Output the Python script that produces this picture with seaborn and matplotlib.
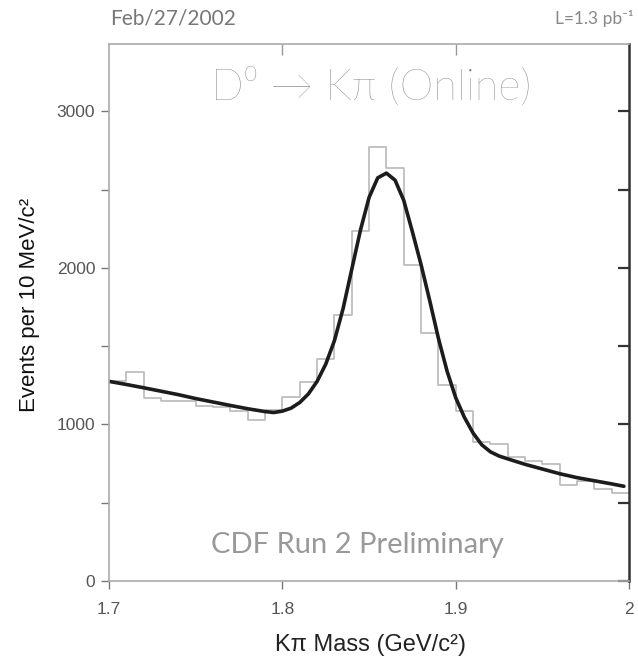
import numpy as np
import pandas as pd
import matplotlib
matplotlib.use("Agg")
import matplotlib.pyplot as plt
import seaborn as sns

# --- Data ---
# 10 MeV bins from 1.70 to 2.00 GeV
bin_edges = list(np.round(np.linspace(1.70, 2.00, 31), 3))
bin_centers = [round(lo + 0.005, 3) for lo in bin_edges[:-1]]
events = [1280, 1335, 1168, 1148, 1150, 1120, 1110, 1085, 1030, 1095,
          1175, 1270, 1416, 1700, 2235, 2770, 2635, 2020, 1583, 1251,
          1083, 885, 875, 790, 765, 745, 615, 640, 590, 560]

# fitted curve (signal + background), read point by point
fit_mass = [1.700, 1.710, 1.720, 1.730, 1.740, 1.750, 1.760, 1.770, 1.780, 1.790,
            1.795, 1.800, 1.805, 1.810, 1.815, 1.820, 1.825, 1.830, 1.835, 1.840,
            1.845, 1.850, 1.855, 1.860, 1.865, 1.870, 1.875, 1.880, 1.885, 1.890,
            1.895, 1.900, 1.905, 1.910, 1.915, 1.920, 1.925, 1.930, 1.940, 1.950,
            1.960, 1.970, 1.980, 1.990, 1.997]
fit_events = [1275, 1255, 1234, 1212, 1190, 1165, 1143, 1121, 1100, 1082,
              1076, 1085, 1104, 1140, 1195, 1275, 1385, 1535, 1740, 1990,
              2240, 2450, 2575, 2605, 2560, 2431, 2230, 2020, 1790, 1550,
              1340, 1170, 1045, 945, 870, 825, 798, 780, 745, 715,
              685, 660, 640, 620, 605]

x_ticks = [1.7, 1.8, 1.9, 2.0]
x_tick_labels = ["1.7", "1.8", "1.9", "2"]
y_ticks = [0, 1000, 2000, 3000]
y_minor = [500, 1500, 2500]

df_hist = pd.DataFrame({"mass": bin_centers, "events": events})
df_fit = pd.DataFrame({"mass": fit_mass, "events": fit_events})

# --- Plot ---
sns.set_style("white")
plt.rcParams["font.family"] = ["Liberation Sans", "DejaVu Sans"]

fig = plt.figure(figsize=(6.38, 6.63), dpi=100)
ax = fig.add_axes([0.171, 0.1237, 0.815, 0.81])

sns.histplot(data=df_hist, x="mass", weights="events", bins=bin_edges, element="step",
             fill=False, color="#b9b9b9", linewidth=1.2, ax=ax)
sns.lineplot(data=df_fit, x="mass", y="events", color="#1c1c1c", linewidth=2.6, ax=ax)

ax.set_xlim(1.7, 2.0)
ax.set_ylim(0, 3430)
ax.set_xlabel("")
ax.set_ylabel("")

ax.set_xticks(x_ticks)
ax.set_xticklabels(x_tick_labels)
ax.set_yticks(y_ticks)
ax.set_yticks(y_minor, minor=True)
ax.tick_params(axis="both", which="both", direction="out", length=6, width=1.0,
               color="#777777", labelcolor="#555555", labelsize=12.5, pad=4,
               left=True, bottom=True)
ax.tick_params(axis="x", pad=9)

for side in ["left", "bottom", "top"]:
    ax.spines[side].set_color("#aaaaaa")
    ax.spines[side].set_linewidth(1.2)
ax.spines["right"].set_color("#333333")
ax.spines["right"].set_linewidth(1.8)

# inward ticks on top and right
top = ax.secondary_xaxis("top")
top.set_xticks([1.8, 1.9])
top.tick_params(direction="in", length=8, width=1.0, color="#999999", labeltop=False)
top.spines["top"].set_visible(False)
right = ax.secondary_yaxis("right")
right.set_yticks(y_ticks + y_minor)
right.tick_params(direction="in", length=8, width=1.6, color="#333333", labelright=False)
right.spines["right"].set_visible(False)

# --- Text ---
fig.text(0.581, 0.867, "D\u2070 \u2192 K\u03c0 (Online)", ha="center", va="center",
         fontsize=31, color="#808080", family=["Lato", "DejaVu Sans"], fontweight="light")
fig.text(0.56, 0.178, "CDF Run 2 Preliminary", ha="center", va="center",
         fontsize=21, color="#999999", family=["Lato", "DejaVu Sans"])
fig.text(0.172, 0.972, "Feb/27/2002", ha="left", va="center",
         fontsize=15, color="#777777", family=["Lato", "DejaVu Sans"])
fig.text(0.993, 0.972, "L=1.3 pb\u207b\u00b9", ha="right", va="center",
         fontsize=12.5, color="#888888", family=["Lato", "DejaVu Sans"])
fig.text(0.047, 0.54, "Events per 10 MeV/c\u00b2", ha="center", va="center",
         rotation=90, fontsize=16, color="#111111")
fig.text(0.58, 0.027, "K\u03c0 Mass (GeV/c\u00b2)", ha="center", va="center",
         fontsize=17, color="#222222")

fig.savefig("out.png", dpi=100)
